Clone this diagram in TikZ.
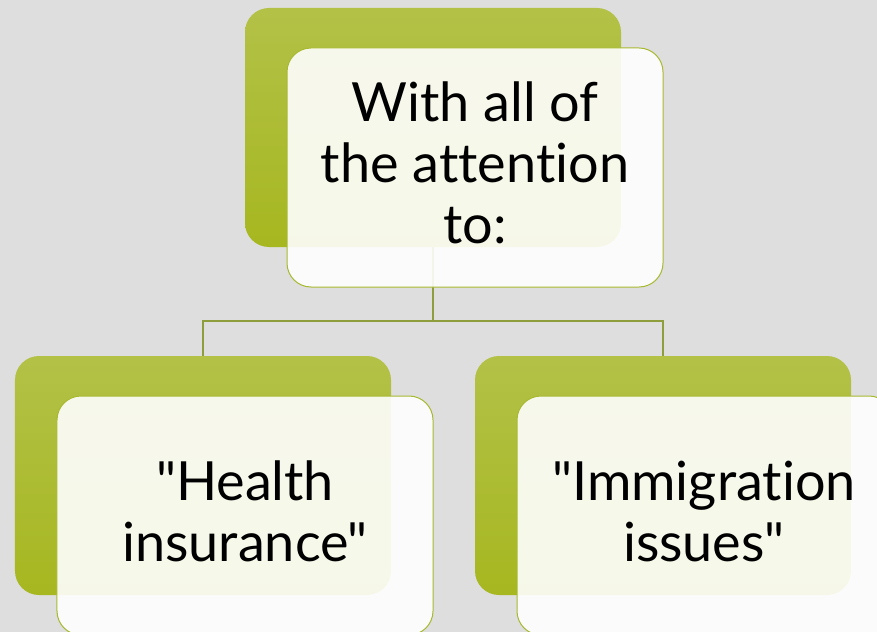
\documentclass[tikz,border=0pt]{standalone}
\usepackage{fontspec}
\setmainfont{Lato}
\newfontfamily\labelfont{Lato}[Ligatures=CommonOff]
\definecolor{bgc}{HTML}{DEDEDE}
\definecolor{gtop}{HTML}{B3C147}
\definecolor{gbot}{HTML}{A6B720}
\definecolor{wborder}{HTML}{A8B930}
\definecolor{linkc}{HTML}{8E9E3C}
\begin{document}
\begin{tikzpicture}[x=1bp,y=1bp]
\tikzset{
  greenbox/.style={rectangle, rounded corners=24bp, top color=gtop, bottom color=gbot, draw=none, minimum width=376bp, minimum height=239bp, inner sep=0pt},
  whitebox/.style={rectangle, rounded corners=24bp, fill=white, fill opacity=0.9, draw=wborder, draw opacity=1, line width=1bp, minimum width=376bp, minimum height=239bp, inner sep=0pt},
  boxlabel/.style={font=\labelfont\fontsize{54bp}{61bp}\selectfont, align=center, text=black, inner sep=0pt},
  link/.style={draw=linkc, line width=1.3bp}
}
\useasboundingbox (0,0) rectangle (877,-632);
\clip (0,0) rectangle (877,-632);
\fill[bgc] (0,0) rectangle (877,-632);
% green back boxes
\node[greenbox] (tg) at (433,-127.5) {};
\node[greenbox] (lg) at (203,-475.5) {};
\node[greenbox] (rg) at (663,-475.5) {};
% connectors
\coordinate (bus) at (433,-321);
\draw[link] (tg.south) -- (bus);
\draw[link] (bus) -| (lg.north);
\draw[link] (bus) -| (rg.north);
% white front boxes
\node[whitebox] (tw) at (475,-167.5) {};
\node[whitebox] (lw) at (245,-515.5) {};
\node[whitebox] (rw) at (705,-515.5) {};
% labels
\node[boxlabel] (tt) at (475,-163) {With all of\\the attention\\to:};
\node[boxlabel] (lt) at (245,-511.5) {"Health\\insurance"};
\node[boxlabel] (rt) at (704,-511.5) {"Immigration\\issues"};
\end{tikzpicture}
\end{document}
